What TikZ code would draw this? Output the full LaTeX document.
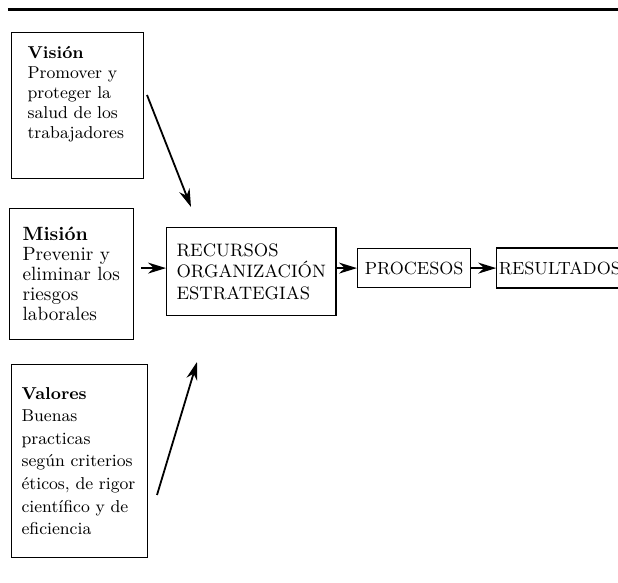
\documentclass[tikz,border=0pt]{standalone}
\usetikzlibrary{arrows.meta,positioning}
\begin{document}
\begin{tikzpicture}[x=0.5pt,y=-0.5pt,>={Stealth[length=9pt,width=5.5pt]},
  caja/.style={draw,line width=0.6pt,align=left,anchor=north west,inner ysep=0pt,font=\fontsize{8.6}{10}\selectfont},
  flecha/.style={->,line width=0.9pt}]
  \useasboundingbox (0,0) rectangle (618,583);
  \clip (0,0) rectangle (618,583);
  \draw[line width=1.5pt] (8,9.5) -- (618,9.5);
  % cajas de la izquierda
  \node[caja,text width=50pt,inner xsep=8pt,minimum height=73pt] (vision) at (11,32)
    {\textbf{Visión}\\Promover y\\proteger la\\salud de los\\trabajadores\\\strut};
  \node[caja,text width=49pt,inner xsep=6.5pt,minimum height=65.5pt,font=\fontsize{9.6}{10}\selectfont] (mision) at (9,208)
    {\textbf{Misión}\\Prevenir y\\eliminar los\\riesgos\\laborales};
  \node[caja,text width=58pt,inner xsep=5pt,minimum height=96.5pt,font=\fontsize{8.6}{11.3}\selectfont] (valores) at (11,364)
    {\textbf{Valores}\\Buenas\\practicas\\según criterios\\éticos, de rigor\\científico y de\\eficiencia};
  % cadena central
  \node[caja,inner xsep=5pt,minimum width=83.5pt,minimum height=44pt,font=\fontsize{9}{10.7}\selectfont] (centro) at (166,227)
    {RECURSOS\\ORGANIZACIÓN\\ESTRATEGIAS};
  \node[caja,minimum width=56.5pt,minimum height=19.5pt,font=\fontsize{8.8}{10}\selectfont] (procesos) at (357,248) {PROCESOS};
  \node[caja,anchor=west,text width=70pt,inner xsep=1pt,minimum height=20pt,font=\fontsize{8.8}{10}\selectfont,right=12.5pt of procesos] (resultados) {RESULTADOS};
  \coordinate (v1) at (147,95);
  \coordinate (v2) at (191,207);
  \coordinate (w1) at (157,495);
  \coordinate (w2) at (197,362);
  \draw[flecha] (v1) -- (v2);
  \draw[flecha] (w1) -- (w2);
  \draw[flecha,shorten <=3.5pt] (mision.east |- procesos.west) -- (centro.west |- procesos.west);
  \draw[flecha] (centro.east |- procesos.west) -- (procesos.west);
  \draw[flecha] (procesos) -- (resultados);
\end{tikzpicture}
\end{document}
